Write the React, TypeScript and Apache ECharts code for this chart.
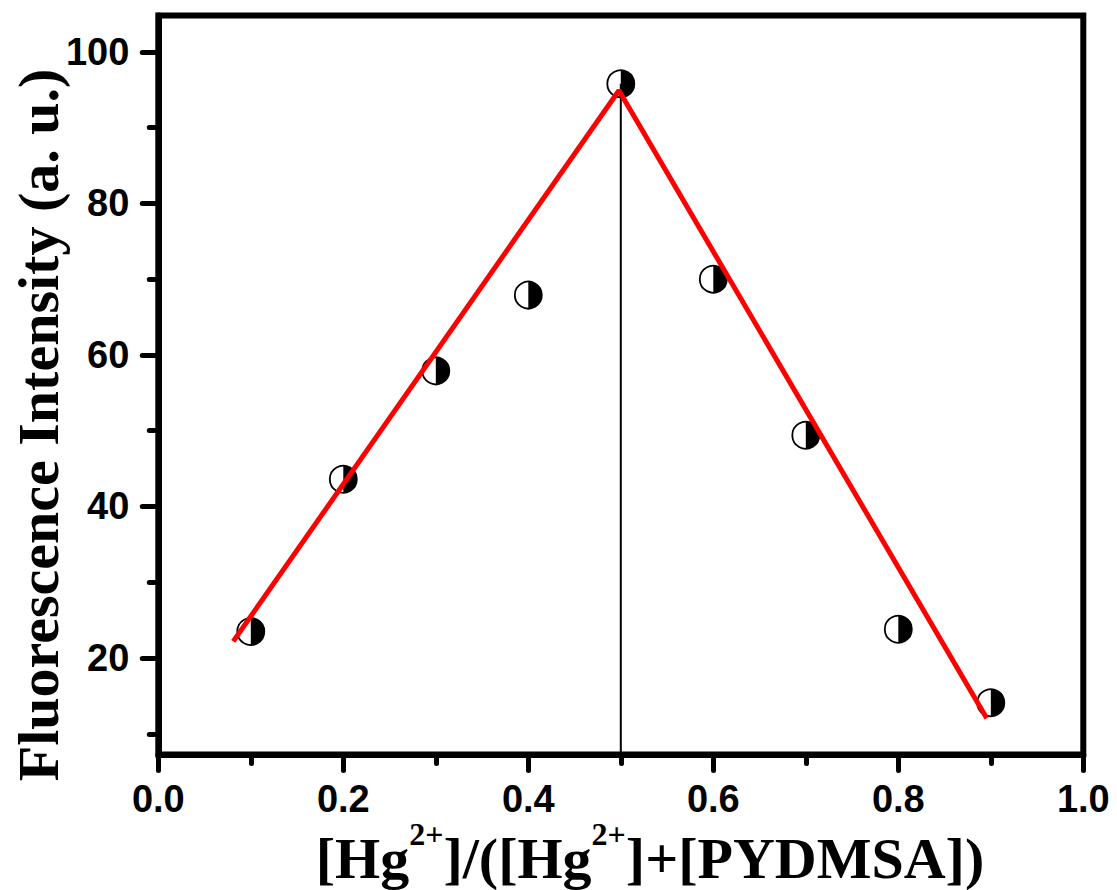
import React, { useEffect, useRef } from 'react';
import * as echarts from 'echarts';

// Data
const molarFraction = [0.1, 0.2, 0.3, 0.4, 0.5, 0.6, 0.7, 0.8, 0.9];
const intensity = [23.5, 43.6, 57.9, 67.9, 95.8, 70.0, 49.4, 23.8, 14.1];
const fitX = [0.081, 0.498, 0.8956];
const fitY = [22.2, 94.9, 12.05];
const dropX = [0.5, 0.5];
const dropY = [95.8, 7.27];
const yMajorTicks = [20, 40, 60, 80, 100];
const yMinorTicks = [10, 30, 50, 70, 90];
const X_MIN = 0;
const X_MAX = 1;
const X_INTERVAL = 0.2;
const Y_MIN = 7.27;
const Y_MAX = 104.8;
const yTitle = 'Fluorescence Intensity (a. u.)';
const xTitleRich = '{m|[Hg}{s|2+}{m|]/([Hg}{s|2+}{m|]+[PYDMSA])}';

const SANS = 'Arial, "Liberation Sans", sans-serif';
const SERIF = '"Times New Roman", "Liberation Serif", serif';

export default function App() {
  const ref = useRef<HTMLDivElement>(null);
  useEffect(() => {
    if (!ref.current) return;
    const chart = echarts.init(ref.current, undefined, { renderer: 'svg' });
    const tickLine = { color: '#000', width: 5, cap: 'round' };
    const labelStyle = {
      fontFamily: SANS,
      fontWeight: 'bold',
      fontSize: 38,
      color: '#000',
    };
    const option: any = {
      animation: false,
      backgroundColor: '#fff',
      grid: {
        left: 158.3,
        right: 33.7,
        top: 15.5,
        bottom: 135.5,
        show: true,
        borderColor: '#000',
        borderWidth: 6,
        backgroundColor: 'transparent',
      },
      xAxis: {
        type: 'value',
        min: X_MIN,
        max: X_MAX,
        interval: X_INTERVAL,
        axisLine: { lineStyle: { color: '#000', width: 6 } },
        axisTick: { show: true, length: 16, lineStyle: tickLine },
        minorTick: { show: true, splitNumber: 2, length: 9, lineStyle: tickLine },
        splitLine: { show: false },
        minorSplitLine: { show: false },
        axisLabel: {
          ...labelStyle,
          margin: 25,
          formatter: (v: number) => v.toFixed(1),
        },
      },
      yAxis: [
        {
          type: 'value',
          min: Y_MIN,
          max: Y_MAX,
          position: 'left',
          axisLine: { show: true, lineStyle: { color: '#000', width: 6 } },
          axisTick: { show: true, length: 16, lineStyle: tickLine, customValues: yMajorTicks },
          splitLine: { show: false },
          axisLabel: {
            ...labelStyle,
            margin: 29,
            customValues: yMajorTicks,
            formatter: (v: number) => String(Math.round(v)),
          },
        },
        {
          type: 'value',
          min: Y_MIN,
          max: Y_MAX,
          position: 'left',
          axisLine: { show: false },
          axisTick: { show: true, length: 9, lineStyle: tickLine, customValues: yMinorTicks },
          axisLabel: { show: false },
          splitLine: { show: false },
        },
      ],
      series: [
        {
          type: 'custom',
          clip: false,
          data: molarFraction.map((x, i) => [x, intensity[i]]),
          encode: { x: 0, y: 1 },
          renderItem: (_params: any, api: any) => {
            const p = api.coord([api.value(0), api.value(1)]);
            const r = 13.5;
            return {
              type: 'group',
              children: [
                {
                  type: 'circle',
                  shape: { cx: p[0], cy: p[1], r },
                  style: { fill: '#fff', stroke: '#000', lineWidth: 1.8 },
                },
                {
                  type: 'sector',
                  shape: {
                    cx: p[0],
                    cy: p[1],
                    r0: 0,
                    r,
                    startAngle: -Math.PI / 2,
                    endAngle: Math.PI / 2,
                    clockwise: true,
                  },
                  style: { fill: '#000' },
                },
              ],
            };
          },
        },
        {
          type: 'line',
          data: dropX.map((x, i) => [x, dropY[i]]),
          showSymbol: false,
          symbol: 'none',
          lineStyle: { color: '#000', width: 2 },
        },
        {
          type: 'line',
          data: fitX.map((x, i) => [x, fitY[i]]),
          showSymbol: false,
          symbol: 'none',
          lineStyle: { color: '#ff0000', width: 5 },
        },
      ],
      graphic: [
        {
          type: 'text',
          x: 38,
          y: 425,
          rotation: Math.PI / 2,
          style: {
            text: yTitle,
            font: `bold 58px ${SERIF}`,
            fill: '#000',
            align: 'center',
            verticalAlign: 'middle',
          },
        },
        {
          type: 'text',
          x: 650,
          y: 818,
          style: {
            text: xTitleRich,
            font: `bold 58px ${SERIF}`,
            fill: '#000',
            align: 'center',
            verticalAlign: 'top',
            rich: {
              m: {
                fontFamily: SERIF,
                fontWeight: 'bold',
                fontSize: 58,
                lineHeight: 80,
                fill: '#000',
              },
              s: {
                fontFamily: SERIF,
                fontWeight: 'bold',
                fontSize: 32,
                lineHeight: 32,
                verticalAlign: 'top',
                fill: '#000',
              },
            },
          },
        },
      ],
    };
    chart.setOption(option);
    return () => chart.dispose();
  }, []);
  return (
    <div
      ref={ref}
      style={{ position: 'absolute', left: 0, top: 0, width: 1117, height: 890 }}
    />
  );
}
